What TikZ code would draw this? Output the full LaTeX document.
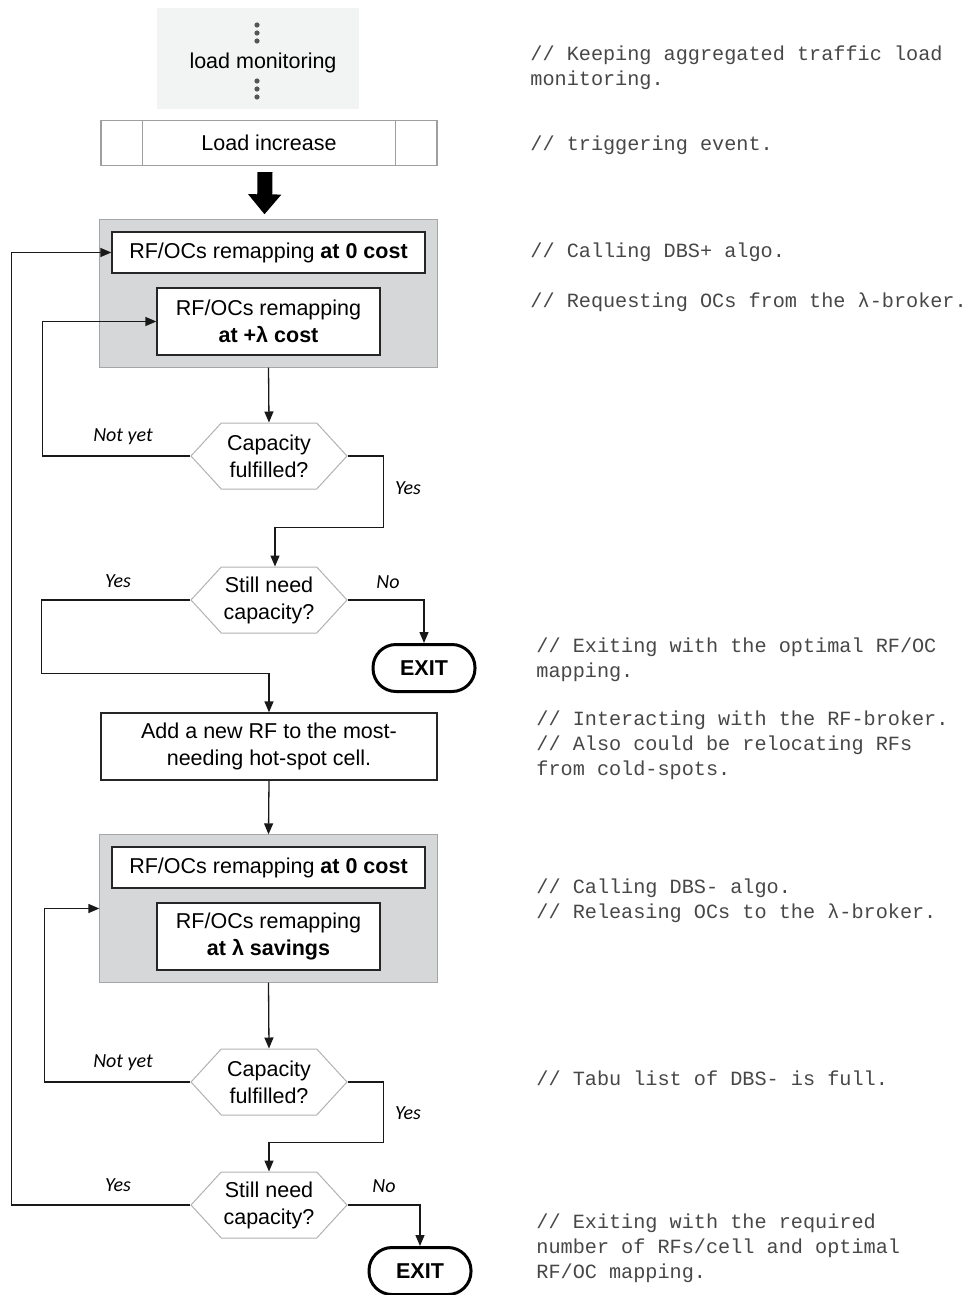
\documentclass[tikz,border=0pt]{standalone}
\usepackage{fontspec}
\setmainfont{Liberation Sans}
\newfontfamily\codefont{Liberation Mono}
\newfontfamily\notefont{Carlito}
\usetikzlibrary{positioning,arrows.meta,shapes.symbols,calc,fit,backgrounds}
\definecolor{monfill}{HTML}{F2F3F3}
\definecolor{grpfill}{HTML}{D6D7D8}
\definecolor{dotgray}{HTML}{555555}

\begin{document}
\begin{tikzpicture}[
  x=0.5pt,y=-0.5pt,
  font=\fontsize{10.75}{13.5}\selectfont,
  box/.style={draw=black!85,fill=white,line width=0.65pt,align=center,inner sep=0pt},
  hexa/.style={signal,signal to=east and west,signal pointer angle=95,
               draw=gray!60,fill=white,line width=0.5pt,minimum width=78pt,
               minimum height=33pt,inner sep=0pt,align=center},
  exitb/.style={draw,line width=1.5pt,rounded corners=11.5pt,minimum width=51pt,
                minimum height=23.5pt,font=\fontsize{10.75}{13.5}\selectfont\bfseries},
  grp/.style={fill=grpfill,draw=gray!70,line width=0.5pt,inner sep=5.75pt},
  arr/.style={-{Triangle[length=5.5pt,width=4.5pt]},line width=0.65pt,black!90},
  lbl/.style={font=\notefont\itshape\fontsize{10}{12}\selectfont},
  cmt/.style={font=\codefont\fontsize{10.1}{12.5}\selectfont,align=left,
              anchor=west,inner sep=0pt,text=black!72},
]
  \useasboundingbox (0,0) rectangle (972,1295);

  % trigger part
  \node[fill=monfill,minimum width=101pt,minimum height=50.5pt,inner sep=0pt] (mon) at (258,59) {};
  \node at (263,63) (montxt) {load monitoring};
  \foreach \yy in {25,33,41,81,89,97}
    \fill[dotgray] (257,\yy) circle[radius=1.3pt];
  \node[draw=gray!75,line width=0.6pt,minimum width=168pt,minimum height=22.5pt,inner sep=0pt] (inc) at (269,143) {Load increase};
  \draw[gray!75,line width=0.6pt] ($(inc.north west)+(42,0)$) -- ($(inc.south west)+(42,0)$)
    ($(inc.north east)+(-42,0)$) -- ($(inc.south east)+(-42,0)$);

  % DBS+ block
  \node[box,minimum width=156.5pt,minimum height=20.5pt] (a1) at (268.5,252.5)
    {RF/OCs remapping \textbf{at 0 cost}};
  \node[box,minimum width=111.5pt,minimum height=33.5pt] (a2) at (268.5,321.5)
    {RF/OCs remapping\\\textbf{at +λ cost}};
  \begin{scope}[on background layer]
    \node[grp,fit=(a1)(a2)] (g1) {};
  \end{scope}
  \draw[-{Triangle[length=10pt,width=16pt]},line width=7.5pt]
    ($(inc.south)+(-4,6)$) -- ($(g1.north)+(-4,-5)$);

  \node[hexa] (cf1) at (269,456) {Capacity\\fulfilled?};
  \node[hexa] (sn1) at (269,600) {Still need\\capacity?};
  \node[exitb] (ex1) at (424,668) {EXIT};
  \node[box,minimum width=168pt,minimum height=33.5pt] (add) at (269,746.5)
    {Add a new RF to the most-\\needing hot-spot cell.};

  % DBS- block
  \node[box,minimum width=156.5pt,minimum height=20.5pt] (b1) at (268.5,867.5)
    {RF/OCs remapping \textbf{at 0 cost}};
  \node[box,minimum width=111.5pt,minimum height=33.5pt] (b2) at (268.5,936.5)
    {RF/OCs remapping\\\textbf{at λ savings}};
  \begin{scope}[on background layer]
    \node[grp,fit=(b1)(b2)] (g2) {};
  \end{scope}

  \node[hexa] (cf2) at (269,1082) {Capacity\\fulfilled?};
  \node[hexa] (sn2) at (269,1205) {Still need\\capacity?};
  \node[exitb] (ex2) at (420,1271) {EXIT};

  % connectors
  \draw[arr] (g1.south) -- (cf1.north);
  \draw[arr] (cf1.west) -- ++(-148,0) |- (a2.west);
  \draw[arr] (cf1.east) -- ++(36,0) |- ($(sn1.north)+(6,-39)$) -- ($(sn1.north)+(6,0)$);
  \draw[arr] (sn1.west) -- ++(-149,0) |- ($(add.north)+(0,-39)$) -- (add.north);
  \draw[arr] (sn1.east) -| (ex1.north);
  \draw[arr] (add.south) -- (g2.north);
  \draw[arr] (g2.south) -- (cf2.north);
  \draw[arr] (cf2.west) -- ++(-146,0) |- (g2.west);
  \draw[arr] (cf2.east) -- ++(36,0) |- ($(sn2.north)+(0,-29)$) -- (sn2.north);
  \draw[arr] (sn2.west) -- ++(-179,0) |- (a1.west);
  \draw[arr] (sn2.east) -| (ex2.north);

  \node[lbl] (ny1) at (123,437) {Not yet};
  \node[lbl] (ys1) at (408,488) {Yes};
  \node[lbl] (ys2) at (118,581) {Yes};
  \node[lbl] (no1) at (388,582) {No};
  \node[lbl] (ny2) at (123,1063) {Not yet};
  \node[lbl] (ys3) at (408,1113) {Yes};
  \node[lbl] (ys4) at (118,1185) {Yes};
  \node[lbl] (no2) at (384,1186) {No};

  % comments
  \node[cmt] (c1) at (530,68) {// Keeping aggregated traffic load\\monitoring.};
  \node[cmt] (c2) at (530,145) {// triggering event.};
  \node[cmt] (c3) at (530,252) {// Calling DBS+ algo.};
  \node[cmt] (c4) at (530,302) {// Requesting OCs from the λ-broker.};
  \node[cmt] (c5) at (536,659.5) {// Exiting with the optimal RF/OC\\mapping.};
  \node[cmt] (c6) at (536,745) {// Interacting with the RF-broker.\\// Also could be relocating RFs\\from cold-spots.};
  \node[cmt] (c7) at (536,901) {// Calling DBS- algo.\\// Releasing OCs to the λ-broker.};
  \node[cmt] (c8) at (536,1078) {// Tabu list of DBS- is full.};
  \node[cmt] (c9) at (536,1248) {// Exiting with the required\\number of RFs/cell and optimal\\RF/OC mapping.};
\end{tikzpicture}
\end{document}
